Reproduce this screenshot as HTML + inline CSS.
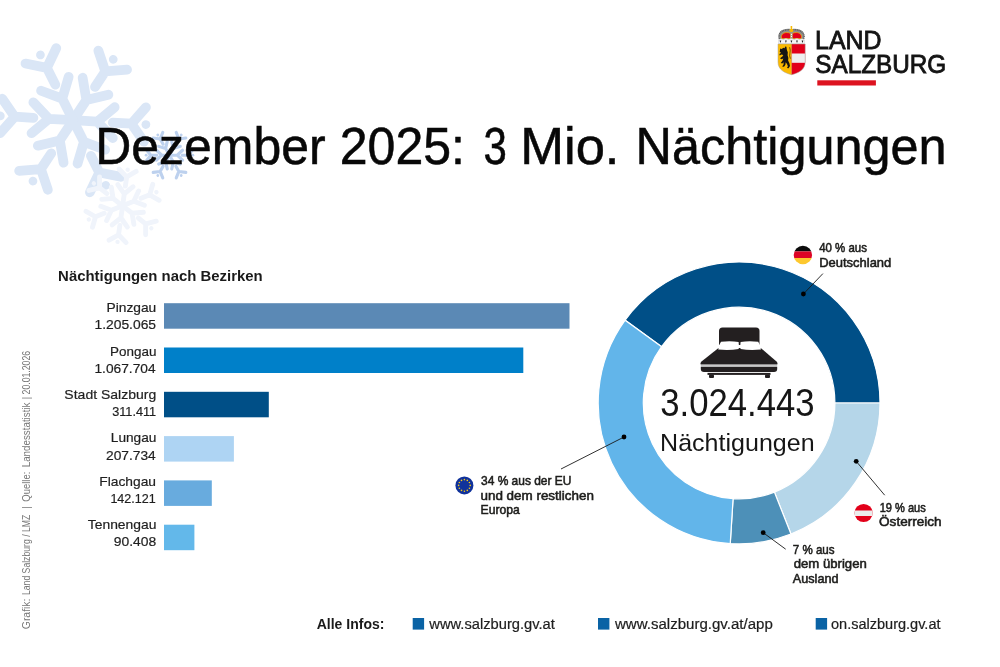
<!DOCTYPE html>
<html><head><meta charset="utf-8"><title>Dezember 2025</title>
<style>
html,body{margin:0;padding:0;background:#fff;}
body{width:1000px;height:667px;overflow:hidden;font-family:"Liberation Sans",sans-serif;}
svg{display:block;will-change:transform;font-family:"Liberation Sans",sans-serif;}
</style></head><body>
<svg width="1000" height="667" viewBox="0 0 1000 667">
<rect width="1000" height="667" fill="#fff"/>
<g transform="translate(73.1 120.2) rotate(33.4)" stroke="#dae6f6" stroke-width="9.75" stroke-linecap="round" stroke-linejoin="round" fill="none"><g transform="rotate(0)"><path d="M0 0 L0 -24.18 M0 -24.18 l-15.43 -16.54 M0 -24.18 l15.43 -16.54 M0 -39.78 L0 -58.50 M0 -58.50 l-17.21 -13.45 M0 -58.50 l17.21 -13.45"/><circle cx="0" cy="-72.93" r="4.37" fill="#dae6f6" stroke="none"/></g><g transform="rotate(60)"><path d="M0 0 L0 -24.18 M0 -24.18 l-15.43 -16.54 M0 -24.18 l15.43 -16.54 M0 -39.78 L0 -58.50 M0 -58.50 l-17.21 -13.45 M0 -58.50 l17.21 -13.45"/><circle cx="0" cy="-72.93" r="4.37" fill="#dae6f6" stroke="none"/></g><g transform="rotate(120)"><path d="M0 0 L0 -24.18 M0 -24.18 l-15.43 -16.54 M0 -24.18 l15.43 -16.54 M0 -39.78 L0 -58.50 M0 -58.50 l-17.21 -13.45 M0 -58.50 l17.21 -13.45"/><circle cx="0" cy="-72.93" r="4.37" fill="#dae6f6" stroke="none"/></g><g transform="rotate(180)"><path d="M0 0 L0 -24.18 M0 -24.18 l-15.43 -16.54 M0 -24.18 l15.43 -16.54 M0 -39.78 L0 -58.50 M0 -58.50 l-17.21 -13.45 M0 -58.50 l17.21 -13.45"/><circle cx="0" cy="-72.93" r="4.37" fill="#dae6f6" stroke="none"/></g><g transform="rotate(240)"><path d="M0 0 L0 -24.18 M0 -24.18 l-15.43 -16.54 M0 -24.18 l15.43 -16.54 M0 -39.78 L0 -58.50 M0 -58.50 l-17.21 -13.45 M0 -58.50 l17.21 -13.45"/><circle cx="0" cy="-72.93" r="4.37" fill="#dae6f6" stroke="none"/></g><g transform="rotate(300)"><path d="M0 0 L0 -24.18 M0 -24.18 l-15.43 -16.54 M0 -24.18 l15.43 -16.54 M0 -39.78 L0 -58.50 M0 -58.50 l-17.21 -13.45 M0 -58.50 l17.21 -13.45"/><circle cx="0" cy="-72.93" r="4.37" fill="#dae6f6" stroke="none"/></g></g>
<g transform="translate(122.6 205.8) rotate(8)" stroke="#f0f4fb" stroke-width="4.88" stroke-linecap="round" stroke-linejoin="round" fill="none"><g transform="rotate(0)"><path d="M0 0 L0 -12.09 M0 -12.09 l-7.71 -8.27 M0 -12.09 l7.71 -8.27 M0 -19.89 L0 -29.25 M0 -29.25 l-8.61 -6.72 M0 -29.25 l8.61 -6.72"/><circle cx="0" cy="-36.47" r="2.18" fill="#f0f4fb" stroke="none"/></g><g transform="rotate(60)"><path d="M0 0 L0 -12.09 M0 -12.09 l-7.71 -8.27 M0 -12.09 l7.71 -8.27 M0 -19.89 L0 -29.25 M0 -29.25 l-8.61 -6.72 M0 -29.25 l8.61 -6.72"/><circle cx="0" cy="-36.47" r="2.18" fill="#f0f4fb" stroke="none"/></g><g transform="rotate(120)"><path d="M0 0 L0 -12.09 M0 -12.09 l-7.71 -8.27 M0 -12.09 l7.71 -8.27 M0 -19.89 L0 -29.25 M0 -29.25 l-8.61 -6.72 M0 -29.25 l8.61 -6.72"/><circle cx="0" cy="-36.47" r="2.18" fill="#f0f4fb" stroke="none"/></g><g transform="rotate(180)"><path d="M0 0 L0 -12.09 M0 -12.09 l-7.71 -8.27 M0 -12.09 l7.71 -8.27 M0 -19.89 L0 -29.25 M0 -29.25 l-8.61 -6.72 M0 -29.25 l8.61 -6.72"/><circle cx="0" cy="-36.47" r="2.18" fill="#f0f4fb" stroke="none"/></g><g transform="rotate(240)"><path d="M0 0 L0 -12.09 M0 -12.09 l-7.71 -8.27 M0 -12.09 l7.71 -8.27 M0 -19.89 L0 -29.25 M0 -29.25 l-8.61 -6.72 M0 -29.25 l8.61 -6.72"/><circle cx="0" cy="-36.47" r="2.18" fill="#f0f4fb" stroke="none"/></g><g transform="rotate(300)"><path d="M0 0 L0 -12.09 M0 -12.09 l-7.71 -8.27 M0 -12.09 l7.71 -8.27 M0 -19.89 L0 -29.25 M0 -29.25 l-8.61 -6.72 M0 -29.25 l8.61 -6.72"/><circle cx="0" cy="-36.47" r="2.18" fill="#f0f4fb" stroke="none"/></g></g>
<g transform="translate(169.5 155.2) rotate(30)" stroke="#bdd1ee" stroke-width="3.12" stroke-linecap="round" stroke-linejoin="round" fill="none"><g transform="rotate(0)"><path d="M0 0 L0 -7.75 M0 -7.75 l-4.94 -5.30 M0 -7.75 l4.94 -5.30 M0 -12.75 L0 -18.75 M0 -18.75 l-5.52 -4.31 M0 -18.75 l5.52 -4.31"/><circle cx="0" cy="-23.38" r="1.40" fill="#bdd1ee" stroke="none"/></g><g transform="rotate(60)"><path d="M0 0 L0 -7.75 M0 -7.75 l-4.94 -5.30 M0 -7.75 l4.94 -5.30 M0 -12.75 L0 -18.75 M0 -18.75 l-5.52 -4.31 M0 -18.75 l5.52 -4.31"/><circle cx="0" cy="-23.38" r="1.40" fill="#bdd1ee" stroke="none"/></g><g transform="rotate(120)"><path d="M0 0 L0 -7.75 M0 -7.75 l-4.94 -5.30 M0 -7.75 l4.94 -5.30 M0 -12.75 L0 -18.75 M0 -18.75 l-5.52 -4.31 M0 -18.75 l5.52 -4.31"/><circle cx="0" cy="-23.38" r="1.40" fill="#bdd1ee" stroke="none"/></g><g transform="rotate(180)"><path d="M0 0 L0 -7.75 M0 -7.75 l-4.94 -5.30 M0 -7.75 l4.94 -5.30 M0 -12.75 L0 -18.75 M0 -18.75 l-5.52 -4.31 M0 -18.75 l5.52 -4.31"/><circle cx="0" cy="-23.38" r="1.40" fill="#bdd1ee" stroke="none"/></g><g transform="rotate(240)"><path d="M0 0 L0 -7.75 M0 -7.75 l-4.94 -5.30 M0 -7.75 l4.94 -5.30 M0 -12.75 L0 -18.75 M0 -18.75 l-5.52 -4.31 M0 -18.75 l5.52 -4.31"/><circle cx="0" cy="-23.38" r="1.40" fill="#bdd1ee" stroke="none"/></g><g transform="rotate(300)"><path d="M0 0 L0 -7.75 M0 -7.75 l-4.94 -5.30 M0 -7.75 l4.94 -5.30 M0 -12.75 L0 -18.75 M0 -18.75 l-5.52 -4.31 M0 -18.75 l5.52 -4.31"/><circle cx="0" cy="-23.38" r="1.40" fill="#bdd1ee" stroke="none"/></g></g>
<g id="logo">
<path d="M779.2 39.6 C776.5 31.5 783.5 27.6 791.4 29.2 C799.3 27.6 806.8 31.5 803.8 39.6 Z" fill="#8f8f8f"/>
<path d="M779.4 39 C777.2 32.2 784 28.6 791.4 30.2 C798.8 28.6 806 32.2 803.6 39" fill="none" stroke="#5c5c5c" stroke-width="1.5" stroke-dasharray="0.9 0.8"/>
<path d="M781.6 38.6 C780.2 33.4 785.4 31.2 790.6 33.4 L790.6 38.6 Z M792.3 33.4 C797.6 31.2 802.6 33.4 801.3 38.6 L792.3 38.6 Z" fill="#e2001a" stroke="#f0b400" stroke-width="0.7"/>
<rect x="790.5" y="32.2" width="1.9" height="6.6" fill="#9a9a9a"/>
<circle cx="791.45" cy="34.4" r="0.55" fill="#fff"/><circle cx="791.45" cy="36.4" r="0.55" fill="#fff"/>
<path d="M778.6 43.6 V39.8 Q781.2 37.6 783.3 39.6 Q786 37.6 788.6 39.6 Q791.4 37.6 794.2 39.6 Q796.8 37.6 799.5 39.6 Q801.8 37.6 804.4 39.8 V43.6 Z" fill="#f6f6f6" stroke="#b5b5b5" stroke-width="0.35"/>
<path d="M779.5 40.6 h1.8 l-0.9 2.3 z" fill="#1d1d1d"/>
<path d="M785.0 40.6 h1.8 l-0.9 2.3 z" fill="#1d1d1d"/>
<path d="M790.5 40.6 h1.8 l-0.9 2.3 z" fill="#1d1d1d"/>
<path d="M796.1 40.6 h1.8 l-0.9 2.3 z" fill="#1d1d1d"/>
<path d="M801.6 40.6 h1.8 l-0.9 2.3 z" fill="#1d1d1d"/>
<circle cx="791.4" cy="30.3" r="1.9" fill="#f5b800"/><path d="M791.4 26 v3 M790.4 27 h2" stroke="#f5b800" stroke-width="1.1"/>
<path d="M778 44 H791.6 V74.7 C784.5 73 778 69.6 778 62 Z" fill="#fbba00"/>
<path d="M791.6 44 H805.2 V62 C805.2 69.6 798.7 73 791.6 74.7 Z" fill="#e2001a"/>
<rect x="791.6" y="53.5" width="13.6" height="9.3" fill="#efefef"/>
<path d="M778 44 H805.2 V62 C805.2 69.6 798.7 73 791.6 74.7 C784.5 73 778 69.6 778 62 Z" fill="none" stroke="#a8a39a" stroke-width="0.5"/>
<line x1="791.6" y1="44" x2="791.6" y2="74.6" stroke="#b98a10" stroke-width="0.35"/>
<path d="M780.2 48.4 l1.6 0.6 l1.5 -1.2 l1.3 0.4 l0.6 -1.6 l1.2 0.1 l0.5 3.2 l0.9 2.4 l-0.2 3 l0.8 2.6 l-0.3 2.6 l1.3 2.7 l0.6 2.8 l-1.4 2.2 l-1.6 -0.2 l0.9 -1.8 l-0.9 -2.2 l-1.3 -1.7 l-0.3 2.5 l-1.4 2 l-1.9 -0.3 l1.4 -1.8 l0.1 -2.4 l-1.3 1.2 l-1.6 -0.6 l1.8 -2.2 l0.8 -2.3 l-1.8 0.8 l-1.5 -1 l2.4 -1.6 l0.9 -1.7 l-1.9 -0.3 l-1.7 0.9 l-0.3 -1.5 l1.8 -1.2 l-1.5 -0.7 z" fill="#141414"/>
<path d="M789.6 47.2 q1.1 3 0.3 6 q-0.8 2.6 0.5 5.5" fill="none" stroke="#3a2a08" stroke-width="0.7"/>
<text x="815.08" y="49.3" font-size="26" textLength="66.44" lengthAdjust="spacingAndGlyphs" stroke="#141414" stroke-width="0.85" fill="#141414" >LAND</text>
<text x="815.27" y="72.7" font-size="26" textLength="130.98" lengthAdjust="spacingAndGlyphs" stroke="#141414" stroke-width="0.85" fill="#141414" >SALZBURG</text>
<rect x="817.3" y="80.3" width="58.6" height="5.2" fill="#dd1320"/>
</g>
<text x="95.26" y="164.3" font-size="52" textLength="230.37" lengthAdjust="spacingAndGlyphs" stroke="#080808" stroke-width="0.55" fill="#080808" >Dezember</text>
<text x="339.80" y="164.3" font-size="52" textLength="125.16" lengthAdjust="spacingAndGlyphs" stroke="#080808" stroke-width="0.55" fill="#080808" >2025:</text>
<text x="483.38" y="164.3" font-size="52" textLength="23.37" lengthAdjust="spacingAndGlyphs" stroke="#080808" stroke-width="0.55" fill="#080808" >3</text>
<text x="520.16" y="164.3" font-size="52" textLength="99.34" lengthAdjust="spacingAndGlyphs" stroke="#080808" stroke-width="0.55" fill="#080808" >Mio.</text>
<text x="635.62" y="164.3" font-size="52" textLength="310.90" lengthAdjust="spacingAndGlyphs" stroke="#080808" stroke-width="0.55" fill="#080808" >Nächtigungen</text>
<text x="58.14" y="281.2" font-size="14" textLength="204.55" lengthAdjust="spacingAndGlyphs" font-weight="bold" fill="#1a1a1a" >Nächtigungen nach Bezirken</text>
<rect x="164" y="303.20" width="405.5" height="25.5" fill="#5b89b5"/>
<text x="106.49" y="312.2" font-size="13.6" textLength="49.75" lengthAdjust="spacingAndGlyphs" stroke="#1f1f1f" stroke-width="0.2" fill="#1f1f1f" >Pinzgau</text>
<text x="94.48" y="329.4" font-size="13.6" textLength="61.60" lengthAdjust="spacingAndGlyphs" stroke="#1f1f1f" stroke-width="0.2" fill="#1f1f1f" >1.205.065</text>
<rect x="164" y="347.50" width="359.3" height="25.5" fill="#0080c9"/>
<text x="110.11" y="355.6" font-size="13.6" textLength="46.35" lengthAdjust="spacingAndGlyphs" stroke="#1f1f1f" stroke-width="0.2" fill="#1f1f1f" >Pongau</text>
<text x="94.49" y="372.8" font-size="13.6" textLength="61.09" lengthAdjust="spacingAndGlyphs" stroke="#1f1f1f" stroke-width="0.2" fill="#1f1f1f" >1.067.704</text>
<rect x="164" y="391.80" width="104.8" height="25.5" fill="#004f87"/>
<text x="64.38" y="399.0" font-size="13.6" textLength="91.91" lengthAdjust="spacingAndGlyphs" stroke="#1f1f1f" stroke-width="0.2" fill="#1f1f1f" >Stadt Salzburg</text>
<text x="112.13" y="416.2" font-size="13.6" textLength="44.05" lengthAdjust="spacingAndGlyphs" stroke="#1f1f1f" stroke-width="0.2" fill="#1f1f1f" >311.411</text>
<rect x="164" y="436.10" width="69.9" height="25.5" fill="#aed4f3"/>
<text x="110.79" y="442.4" font-size="13.6" textLength="45.68" lengthAdjust="spacingAndGlyphs" stroke="#1f1f1f" stroke-width="0.2" fill="#1f1f1f" >Lungau</text>
<text x="105.99" y="459.6" font-size="13.6" textLength="49.75" lengthAdjust="spacingAndGlyphs" stroke="#1f1f1f" stroke-width="0.2" fill="#1f1f1f" >207.734</text>
<rect x="164" y="480.40" width="47.8" height="25.5" fill="#68abde"/>
<text x="99.29" y="485.8" font-size="13.6" textLength="56.74" lengthAdjust="spacingAndGlyphs" stroke="#1f1f1f" stroke-width="0.2" fill="#1f1f1f" >Flachgau</text>
<text x="110.38" y="503.0" font-size="13.6" textLength="45.35" lengthAdjust="spacingAndGlyphs" stroke="#1f1f1f" stroke-width="0.2" fill="#1f1f1f" >142.121</text>
<rect x="164" y="524.70" width="30.4" height="25.5" fill="#63b8ea"/>
<text x="87.80" y="529.2" font-size="13.6" textLength="68.60" lengthAdjust="spacingAndGlyphs" stroke="#1f1f1f" stroke-width="0.2" fill="#1f1f1f" >Tennengau</text>
<text x="113.69" y="546.4" font-size="13.6" textLength="42.50" lengthAdjust="spacingAndGlyphs" stroke="#1f1f1f" stroke-width="0.2" fill="#1f1f1f" >90.408</text>
<path d="M625.11 320.18 A140.9 140.9 0 0 1 880.00 403.00 L834.90 403.00 A95.8 95.8 0 0 0 661.60 346.69 Z" fill="#004f87" stroke="#fff" stroke-width="1.2"/>
<path d="M880.00 403.00 A140.9 140.9 0 0 1 790.97 534.01 L774.37 492.07 A95.8 95.8 0 0 0 834.90 403.00 Z" fill="#b5d6e9" stroke="#fff" stroke-width="1.2"/>
<path d="M790.97 534.01 A140.9 140.9 0 0 1 730.25 543.62 L733.08 498.61 A95.8 95.8 0 0 0 774.37 492.07 Z" fill="#4d90b8" stroke="#fff" stroke-width="1.2"/>
<path d="M730.25 543.62 A140.9 140.9 0 0 1 625.11 320.18 L661.60 346.69 A95.8 95.8 0 0 0 733.08 498.61 Z" fill="#62b5ea" stroke="#fff" stroke-width="1.2"/>
<g fill="#231f20">
<path d="M719 345 V331 Q719 327.5 722.5 327.5 H756 Q759.5 327.5 759.5 331 V345 Z"/>
<path d="M718.5 348 H760.8 L776.5 361.5 Q778 363 777.3 364.6 H700.7 Q700 363 701.5 361.5 Z"/>
<path d="M700.8 367 H777.2 V369 Q777.2 372 774 372 H704 Q700.8 372 700.8 369 Z"/>
<rect x="707.5" y="372.9" width="63" height="2"/>
<rect x="709" y="374.5" width="5" height="3.5" rx="1"/><rect x="765" y="374.5" width="5" height="3.5" rx="1"/>
</g>
<rect x="700.8" y="365.3" width="76.4" height="1.6" fill="#b0b0b0"/>
<path d="M721 341.8 Q730 340.4 738.6 342 Q739.3 346 738.6 349 Q730 350.6 718.2 349.6 Q718.6 345 721 341.8 Z" fill="#fff"/>
<path d="M758.2 341.8 Q749 340.4 740.6 342 Q739.9 346 740.6 349 Q749 350.6 761 349.6 Q760.6 345 758.2 341.8 Z" fill="#fff"/>
<text x="660.33" y="415.8" font-size="38" textLength="154.29" lengthAdjust="spacingAndGlyphs" fill="#161616" >3.024.443</text>
<text x="660.13" y="450.7" font-size="24.2" textLength="154.43" lengthAdjust="spacingAndGlyphs" fill="#161616" >Nächtigungen</text>
<line x1="803.4" y1="294" x2="822.9" y2="273.6" stroke="#1a1a1a" stroke-width="0.9"/>
<circle cx="803.4" cy="294" r="2.4" fill="#000"/>
<text x="819.20" y="252" font-size="12.7" textLength="47.74" lengthAdjust="spacingAndGlyphs" stroke="#1d1d1b" stroke-width="0.55" fill="#1d1d1b" >40 % aus</text>
<text x="819.19" y="267.1" font-size="12.7" textLength="72.10" lengthAdjust="spacingAndGlyphs" stroke="#1d1d1b" stroke-width="0.55" fill="#1d1d1b" >Deutschland</text>
<clipPath id="cde"><circle cx="802.9" cy="255" r="9.2"/></clipPath>
<g clip-path="url(#cde)"><rect x="793" y="245" width="20" height="6.4" fill="#0c0c0c"/><rect x="793" y="251.4" width="20" height="6.6" fill="#dd0425"/><rect x="793" y="258" width="20" height="7" fill="#fdc82f"/></g>
<line x1="856.2" y1="461.3" x2="884.7" y2="495.2" stroke="#1a1a1a" stroke-width="0.9"/>
<circle cx="856.2" cy="461.3" r="2.4" fill="#000"/>
<text x="879.66" y="511.6" font-size="12.7" textLength="46.08" lengthAdjust="spacingAndGlyphs" stroke="#1d1d1b" stroke-width="0.55" fill="#1d1d1b" >19 % aus</text>
<text x="879.07" y="525.6" font-size="12.7" textLength="62.53" lengthAdjust="spacingAndGlyphs" stroke="#1d1d1b" stroke-width="0.55" fill="#1d1d1b" >Österreich</text>
<clipPath id="cat"><circle cx="863.6" cy="513" r="9.1"/></clipPath>
<g clip-path="url(#cat)"><rect x="854" y="503" width="20" height="20" fill="#e2001a"/><rect x="854" y="510.5" width="20" height="5.5" fill="#ececec"/></g>
<line x1="763.2" y1="532.7" x2="785.7" y2="549.2" stroke="#1a1a1a" stroke-width="0.9"/>
<circle cx="763.2" cy="532.7" r="2.4" fill="#000"/>
<text x="792.74" y="554" font-size="12.7" textLength="41.80" lengthAdjust="spacingAndGlyphs" stroke="#1d1d1b" stroke-width="0.55" fill="#1d1d1b" >7 % aus</text>
<text x="793.70" y="568.2" font-size="12.7" textLength="73.10" lengthAdjust="spacingAndGlyphs" stroke="#1d1d1b" stroke-width="0.55" fill="#1d1d1b" >dem übrigen</text>
<text x="792.80" y="582.5" font-size="12.7" textLength="45.78" lengthAdjust="spacingAndGlyphs" stroke="#1d1d1b" stroke-width="0.55" fill="#1d1d1b" >Ausland</text>
<line x1="624" y1="437" x2="561" y2="469" stroke="#1a1a1a" stroke-width="0.9"/>
<circle cx="624" cy="437" r="2.4" fill="#000"/>
<text x="481.00" y="485.4" font-size="12.7" textLength="90.45" lengthAdjust="spacingAndGlyphs" stroke="#1d1d1b" stroke-width="0.55" fill="#1d1d1b" >34 % aus der EU</text>
<text x="480.47" y="499.6" font-size="12.7" textLength="113.41" lengthAdjust="spacingAndGlyphs" stroke="#1d1d1b" stroke-width="0.55" fill="#1d1d1b" >und dem restlichen</text>
<text x="480.52" y="513.6" font-size="12.7" textLength="39.34" lengthAdjust="spacingAndGlyphs" stroke="#1d1d1b" stroke-width="0.55" fill="#1d1d1b" >Europa</text>
<circle cx="464.4" cy="485.4" r="9" fill="#10329b"/>
<circle cx="464.40" cy="479.60" r="0.8" fill="#f6c91a"/>
<circle cx="467.30" cy="480.38" r="0.8" fill="#f6c91a"/>
<circle cx="469.42" cy="482.50" r="0.8" fill="#f6c91a"/>
<circle cx="470.20" cy="485.40" r="0.8" fill="#f6c91a"/>
<circle cx="469.42" cy="488.30" r="0.8" fill="#f6c91a"/>
<circle cx="467.30" cy="490.42" r="0.8" fill="#f6c91a"/>
<circle cx="464.40" cy="491.20" r="0.8" fill="#f6c91a"/>
<circle cx="461.50" cy="490.42" r="0.8" fill="#f6c91a"/>
<circle cx="459.38" cy="488.30" r="0.8" fill="#f6c91a"/>
<circle cx="458.60" cy="485.40" r="0.8" fill="#f6c91a"/>
<circle cx="459.38" cy="482.50" r="0.8" fill="#f6c91a"/>
<circle cx="461.50" cy="480.38" r="0.8" fill="#f6c91a"/>
<text x="316.71" y="629.4" font-size="14.2" textLength="67.70" lengthAdjust="spacingAndGlyphs" font-weight="bold" fill="#1a1a1a" >Alle Infos:</text>
<rect x="412.7" y="618" width="11.4" height="11.6" fill="#0a63a5"/>
<rect x="598" y="618" width="11.4" height="11.6" fill="#0a63a5"/>
<rect x="815.7" y="618" width="11.4" height="11.6" fill="#0a63a5"/>
<text x="429.30" y="629.4" font-size="13.8" textLength="125.53" lengthAdjust="spacingAndGlyphs" stroke="#1f1f1f" stroke-width="0.2" fill="#1f1f1f" >www.salzburg.gv.at</text>
<text x="615.00" y="629.4" font-size="13.8" textLength="157.80" lengthAdjust="spacingAndGlyphs" stroke="#1f1f1f" stroke-width="0.2" fill="#1f1f1f" >www.salzburg.gv.at/app</text>
<text x="830.97" y="629.4" font-size="13.8" textLength="109.56" lengthAdjust="spacingAndGlyphs" stroke="#1f1f1f" stroke-width="0.2" fill="#1f1f1f" >on.salzburg.gv.at</text>
<g transform="translate(30.3 628.7) rotate(-90)">
<text x="-0.51" y="0" font-size="10.3" textLength="30.64" lengthAdjust="spacingAndGlyphs" fill="#777" >Grafik:</text>
<text x="33.68" y="0" font-size="10.3" textLength="80.29" lengthAdjust="spacingAndGlyphs" fill="#777" >Land Salzburg / LMZ</text>
<text x="119.90" y="0" font-size="10.3" textLength="2.41" lengthAdjust="spacingAndGlyphs" fill="#777" >|</text>
<text x="127.04" y="0" font-size="10.3" textLength="30.04" lengthAdjust="spacingAndGlyphs" fill="#777" >Quelle:</text>
<text x="161.42" y="0" font-size="10.3" textLength="64.79" lengthAdjust="spacingAndGlyphs" fill="#777" >Landesstatistik</text>
<text x="229.40" y="0" font-size="10.3" textLength="2.41" lengthAdjust="spacingAndGlyphs" fill="#777" >|</text>
<text x="234.28" y="0" font-size="10.3" textLength="43.58" lengthAdjust="spacingAndGlyphs" fill="#777" >20.01.2026</text>
</g>
</svg>
</body></html>
